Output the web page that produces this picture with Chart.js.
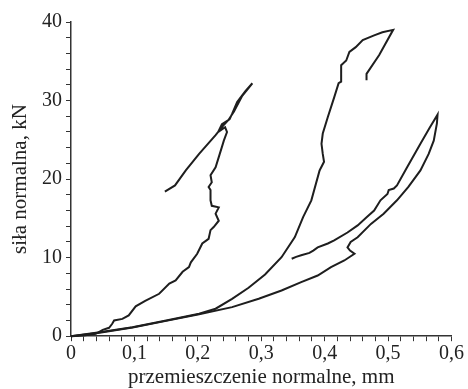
<!DOCTYPE html>
<html>
<head>
<meta charset="utf-8">
<script src="https://cdn.jsdelivr.net/npm/chart.js@4/dist/chart.umd.min.js"></script>
<style>
  html, body { margin: 0; padding: 0; background: #fff; }
  #box { width: 468px; height: 389px; }
</style>
</head>
<body>
<div id="box"><canvas id="forceChart"></canvas></div>
<script>
// ------------------------------
//  Dane
// ------------------------------
const xTitle = "przemieszczenie normalne, mm";
const yTitle = "siła normalna, kN";

// cykl 1
const cycle1X = [0, 0.02, 0.039, 0.05, 0.06, 0.065, 0.068, 0.081, 0.091, 0.102, 0.117, 0.139, 0.155, 0.165, 0.176, 0.186, 0.189, 0.199, 0.207, 0.217, 0.22, 0.225, 0.233, 0.228, 0.233, 0.222, 0.22, 0.22, 0.217, 0.222, 0.22, 0.228, 0.233, 0.238, 0.241, 0.246, 0.243, 0.232, 0.238, 0.25, 0.254, 0.262, 0.275, 0.286, 0.27, 0.257, 0.248, 0.24, 0.228, 0.202, 0.181, 0.164, 0.148];
const cycle1Y = [0, 0.1, 0.3, 0.8, 1.07, 1.58, 2.0, 2.2, 2.65, 3.8, 4.5, 5.4, 6.7, 7.1, 8.2, 8.8, 9.4, 10.5, 11.8, 12.4, 13.5, 13.9, 14.7, 15.6, 16.4, 16.6, 17.3, 18.6, 19.0, 19.6, 20.5, 21.5, 22.8, 24.1, 24.9, 26.0, 26.6, 26.0, 27.0, 27.6, 28.3, 29.8, 31.2, 32.2, 30.6, 28.6, 27.5, 26.8, 25.6, 23.2, 21.1, 19.2, 18.4];

// cykl 2
const cycle2X = [0, 0.045, 0.097, 0.15, 0.202, 0.228, 0.254, 0.28, 0.306, 0.332, 0.353, 0.366, 0.379, 0.392, 0.399, 0.397, 0.395, 0.397, 0.405, 0.415, 0.422, 0.426, 0.426, 0.434, 0.439, 0.449, 0.46, 0.478, 0.491, 0.508, 0.486, 0.466, 0.466];
const cycle2Y = [0, 0.5, 1.15, 2.0, 2.85, 3.5, 4.76, 6.17, 7.86, 10.06, 12.61, 15.16, 17.29, 21.1, 22.2, 23.2, 24.5, 25.8, 27.9, 30.4, 32.2, 32.4, 34.5, 35.1, 36.2, 36.8, 37.7, 38.3, 38.7, 39.0, 35.8, 33.4, 32.6];

// cykl 3
const cycle3X = [0, 0.045, 0.097, 0.15, 0.202, 0.254, 0.296, 0.332, 0.363, 0.389, 0.41, 0.431, 0.447, 0.44, 0.436, 0.441, 0.452, 0.473, 0.493, 0.514, 0.532, 0.551, 0.564, 0.572, 0.577, 0.578, 0.566, 0.551, 0.53, 0.514, 0.509, 0.501, 0.499, 0.488, 0.478, 0.467, 0.452, 0.436, 0.415, 0.405, 0.389, 0.382, 0.376, 0.363, 0.355, 0.348];
const cycle3Y = [0, 0.45, 1.1, 1.95, 2.8, 3.7, 4.76, 5.82, 6.88, 7.73, 8.79, 9.64, 10.5, 10.9, 11.3, 12.0, 12.6, 14.3, 15.6, 17.3, 19.0, 21.1, 23.2, 24.9, 27.1, 28.2, 26.6, 24.5, 21.5, 19.2, 18.8, 18.6, 18.1, 17.3, 16.0, 15.2, 14.1, 13.2, 12.2, 11.8, 11.3, 10.9, 10.6, 10.3, 10.1, 9.86];

function toPoints(xs, ys) {
  return xs.map((x, i) => ({ x: x, y: ys[i] }));
}

// ------------------------------
//  Wykres
// ------------------------------
const FONT = "'Liberation Serif', 'Times New Roman', serif";
const INK = "#222";

function curve(xs, ys) {
  return {
    data: toPoints(xs, ys),
    showLine: true,
    borderColor: "#1e1e1e",
    borderWidth: 2,
    pointRadius: 0,
    tension: 0,
    clip: false
  };
}

function isMajor(value, step) {
  const k = value / step;
  return Math.abs(k - Math.round(k)) < 1e-6;
}

const ctx = document.getElementById("forceChart").getContext("2d");

new Chart(ctx, {
  type: "scatter",
  data: {
    datasets: [
      curve(cycle1X, cycle1Y),
      curve(cycle2X, cycle2Y),
      curve(cycle3X, cycle3Y)
    ]
  },
  options: {
    responsive: true,
    maintainAspectRatio: false,
    animation: false,
    layout: { padding: { top: 22, left: 0, right: -2, bottom: -0.7 } },
    plugins: {
      legend: { display: false },
      tooltip: { enabled: false }
    },
    scales: {
      x: {
        type: "linear",
        min: 0,
        max: 0.6,
        border: { display: true, color: "#333", width: 1.5 },
        grid: { display: true, drawOnChartArea: false, drawTicks: true, tickLength: 5, color: "#333", lineWidth: 1 },
        ticks: {
          stepSize: 0.02,
          autoSkip: false,
          maxRotation: 0,
          padding: 4,
          color: INK,
          font: { family: FONT, size: 20, lineHeight: 0.9 },
          callback: (v) => isMajor(v, 0.1) ? (v === 0 ? "0" : v.toFixed(1).replace(".", ",")) : ""
        },
        title: {
          display: true,
          text: xTitle,
          color: INK,
          font: { family: FONT, size: 21, lineHeight: 1 },
          padding: { top: 0, bottom: 1.5 }
        }
      },
      y: {
        type: "linear",
        min: 0,
        max: 40,
        border: { display: true, color: "#333", width: 1.5 },
        grid: { display: true, drawOnChartArea: false, drawTicks: true, tickLength: 5, color: "#333", lineWidth: 1 },
        ticks: {
          stepSize: 2,
          autoSkip: false,
          padding: 4,
          color: INK,
          font: { family: FONT, size: 20, lineHeight: 1.1 },
          callback: (v) => isMajor(v, 10) ? String(v) : ""
        },
        title: {
          display: true,
          text: yTitle,
          color: INK,
          font: { family: FONT, size: 21, lineHeight: 1 },
          padding: { top: 10, bottom: 7 }
        }
      }
    }
  }
});
</script>
</body>
</html>
